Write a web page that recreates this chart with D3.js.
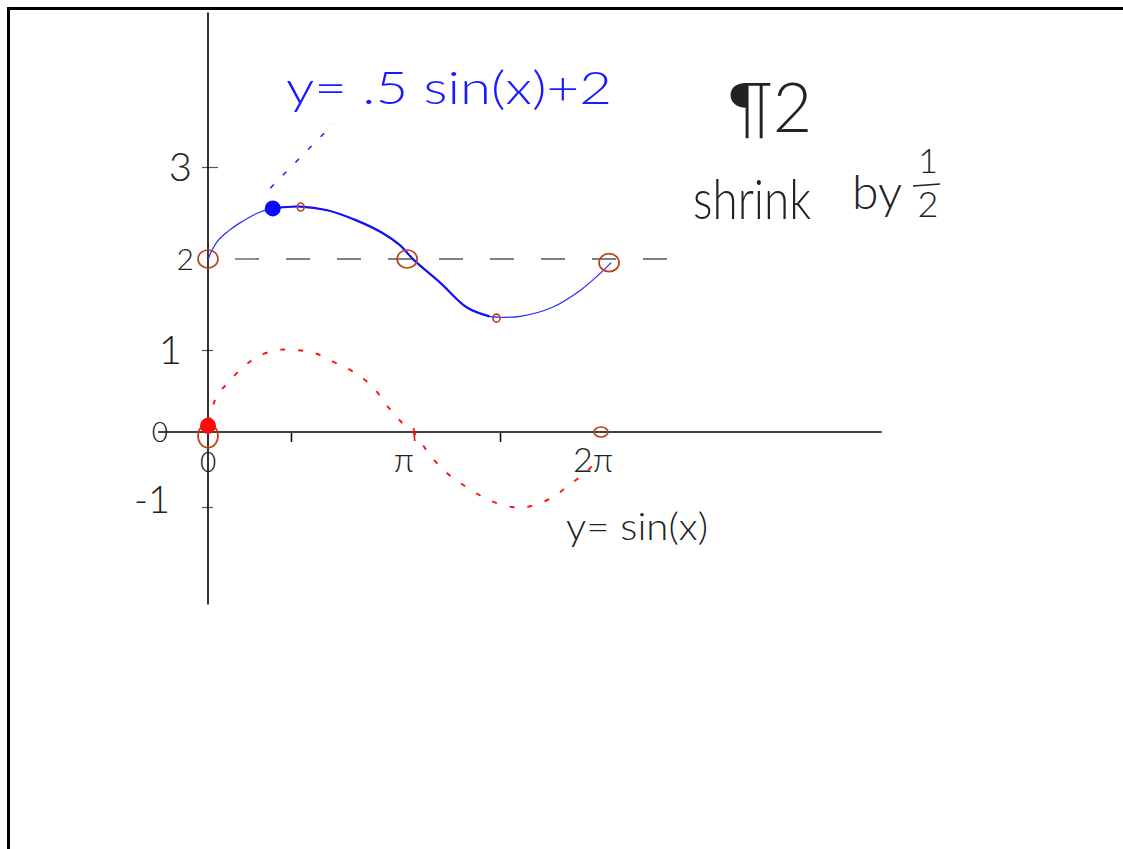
<!DOCTYPE html>
<html>
<head>
<meta charset="utf-8">
<script src="https://cdn.jsdelivr.net/npm/d3@7"></script>
<style>
  html, body { margin: 0; padding: 0; background: #fff; }
  svg { display: block; }
  text { font-family: "Lato", "Open Sans", sans-serif; font-weight: 300; }
</style>
</head>
<body>
<svg id="chart" width="1123" height="849"></svg>
<script>
// x values are in multiples of π
const xTickValues = [0, 0.5, 1, 1.5, 2];
const yTickValues = [-1, 0, 1, 2, 3];
const xTickLabels = ["0", "π", "2π"];
const xTickLabelAt = [0, 1, 2];
const yTickLabels = ["-1", "0", "1", "2", "3"];

// y = sin(x), dashed red
const sinX = [0.01, 0.05, 0.12, 0.2, 0.3, 0.42, 0.52, 0.6, 0.68, 0.76, 0.84, 0.9, 0.96, 1.01, 1.11, 1.21, 1.32, 1.44, 1.56, 1.65, 1.76, 1.84, 1.92, 1.97];
const sinY = [0.12, 0.43, 0.6, 0.77, 0.92, 1.0, 1.0, 0.96, 0.85, 0.73, 0.54, 0.31, 0.11, -0.01, -0.33, -0.57, -0.75, -0.91, -1.0, -0.99, -0.87, -0.71, -0.55, -0.41];

// y = .5 sin(x) + 2, solid blue
const shrunkX = [0, 0.02, 0.06, 0.12, 0.19, 0.3, 0.39, 0.54, 0.65, 0.77, 0.88, 0.95, 1.01, 1.16, 1.31, 1.44, 1.5, 1.6, 1.76, 1.9, 2.0, 2.05];
const shrunkY = [1.99, 2.08, 2.2, 2.3, 2.39, 2.5, 2.55, 2.57, 2.53, 2.42, 2.28, 2.15, 1.99, 1.74, 1.47, 1.37, 1.36, 1.37, 1.47, 1.66, 1.85, 1.96];

// circled key points
const keyX = [0, 0.98, 2.04, 0, 2.0, 0.54, 1.48];
const keyY = [2.0, 2.0, 1.96, -0.05, 0, 2.565, 1.35];
const keyKind = ["big", "big", "big", "tall", "small", "tiny", "tiny"];

// highlighted dots
const dotX = [0.39, 0];
const dotY = [2.55, 0.075];
const dotColor = ["#0a0aff", "#ff0a0a"];

// midline y = 2
const midlineY = 2;
const midlineEndX = 2.33;

// pointer from the blue label to the blue dot
const pointerX = [0.375, 0.675];
const pointerY = [2.77, 3.47];

// axis extents
const xAxisExtent = [-0.3, 3.39];
const yAxisExtent = [-2.3, 4.68];

const svg = d3.select("#chart");

const x = d3.scaleLinear().domain(xTickValues).range([208, 291, 412, 500, 601]);
const y = d3.scaleLinear().domain(yTickValues).range([507, 432, 350, 259, 167]);

// page frame
svg.append("path")
  .attr("d", "M8.5,849 L8.5,8.5 L1123,8.5")
  .attr("fill", "none").attr("stroke", "#000").attr("stroke-width", 3);

// axes
const xAxis = d3.axisBottom(x).tickValues([0.5, 1.5]).tickSize(10).tickFormat("");
const gx = svg.append("g").attr("transform", `translate(0,${y(0)})`).call(xAxis);
gx.select(".domain").remove();
gx.selectAll(".tick line").attr("stroke", "#111").attr("stroke-width", 1.6).attr("y1", 1);

const yAxis = d3.axisLeft(y).tickValues([-1, 1, 3]).tickSize(6).tickFormat("");
const gy = svg.append("g").attr("transform", `translate(${x(0)},0)`).call(yAxis);
gy.select(".domain").remove();
gy.selectAll(".tick line").attr("stroke", "#555").attr("stroke-width", 1.2)
  .attr("x1", d => d === 3 ? 10 : 5);

svg.append("line")
  .attr("x1", x(xAxisExtent[0])).attr("x2", x(xAxisExtent[1]))
  .attr("y1", y(0)).attr("y2", y(0))
  .attr("stroke", "#000").attr("stroke-width", 1.6);
svg.append("line")
  .attr("x1", x(0)).attr("x2", x(0))
  .attr("y1", y(yAxisExtent[1])).attr("y2", y(yAxisExtent[0]))
  .attr("stroke", "#000").attr("stroke-width", 1.6);

// tick labels
const yLabelDx = { "3": -16, "2": -14, "1": -26, "0": -40, "-1": -38 };
const yLabelSize = { "3": 40, "2": 30, "1": 40, "0": 28, "-1": 38 };
svg.append("g").selectAll("text")
  .data(yTickLabels)
  .join("text")
  .attr("x", d => x(0) + yLabelDx[d])
  .attr("y", d => y(+d) + (d === "-1" ? -8 : 0))
  .attr("dy", "0.36em")
  .attr("text-anchor", "end")
  .attr("font-size", d => yLabelSize[d])
  .attr("fill", "#222")
  .text(d => d);

svg.append("g").selectAll("text")
  .data(xTickLabels)
  .join("text")
  .attr("x", (d, i) => x(xTickLabelAt[i]) + (i === 0 ? 0 : -8))
  .attr("y", y(0) + 40)
  .attr("text-anchor", "middle")
  .attr("font-size", (d, i) => i === 0 ? 28 : 34)
  .attr("fill", "#222")
  .text(d => d);

// midline
svg.append("line")
  .attr("x1", x(0)).attr("x2", x(midlineEndX))
  .attr("y1", y(midlineY)).attr("y2", y(midlineY))
  .attr("stroke", "#555").attr("stroke-width", 1.3)
  .attr("stroke-dasharray", "24,27").attr("stroke-dashoffset", 24);

// curves
const line = d3.line().x(d => x(d[0])).y(d => y(d[1])).curve(d3.curveCatmullRom);
const sinPts = sinX.map((v, i) => [v, sinY[i]]);
const shrunkPts = shrunkX.map((v, i) => [v, shrunkY[i]]);

svg.append("path")
  .attr("d", line(sinPts))
  .attr("fill", "none").attr("stroke", "#ff1010").attr("stroke-width", 1.9)
  .attr("stroke-dasharray", "5,13");

svg.append("path")
  .attr("d", line(shrunkPts))
  .attr("fill", "none").attr("stroke", "#2a2aff").attr("stroke-width", 1.2);
svg.append("path")
  .attr("d", line(shrunkPts.filter(p => p[0] >= 0.39 && p[0] <= 1.44)))
  .attr("fill", "none").attr("stroke", "#1212ff").attr("stroke-width", 2.2);

// red π tick
svg.append("line")
  .attr("x1", x(1.01)).attr("x2", x(1.01) + 1)
  .attr("y1", y(0) - 4).attr("y2", y(0) + 9)
  .attr("stroke", "#e01010").attr("stroke-width", 1.6);

// circled key points
const kindR = { big: [10, 9], tall: [10, 12], small: [7, 5], tiny: [3.5, 4] };
svg.append("g").selectAll("ellipse")
  .data(keyX.map((v, i) => ({ x: v, y: keyY[i], k: keyKind[i] })))
  .join("ellipse")
  .attr("cx", d => x(d.x)).attr("cy", d => y(d.y))
  .attr("rx", d => kindR[d.k][0]).attr("ry", d => kindR[d.k][1])
  .attr("fill", "none").attr("stroke", "#b8421c").attr("stroke-width", 1.7);

// pointer
svg.append("line")
  .attr("x1", x(pointerX[0])).attr("y1", y(pointerY[0]))
  .attr("x2", x(pointerX[1])).attr("y2", y(pointerY[1]))
  .attr("stroke", "#1a1aff").attr("stroke-width", 1.5)
  .attr("stroke-dasharray", "5,13");

// dots
svg.append("g").selectAll("circle")
  .data(dotX.map((v, i) => ({ x: v, y: dotY[i], c: dotColor[i] })))
  .join("circle")
  .attr("cx", d => x(d.x)).attr("cy", d => y(d.y)).attr("r", 8)
  .attr("fill", d => d.c);

// annotations
svg.append("text")
  .attr("x", 286).attr("y", 104)
  .attr("font-size", 46).attr("fill", "#1a1aff")
  .attr("textLength", 326).attr("lengthAdjust", "spacingAndGlyphs")
  .text("y= .5 sin(x)+2");

svg.append("text")
  .attr("x", 566).attr("y", 540)
  .attr("font-size", 38).attr("fill", "#222")
  .attr("textLength", 142).attr("lengthAdjust", "spacingAndGlyphs")
  .text("y= sin(x)");

svg.append("text")
  .attr("x", 728).attr("y", 132)
  .attr("font-size", 68).attr("fill", "#222")
  .text("¶2");

svg.append("text")
  .attr("x", 693).attr("y", 219)
  .attr("font-size", 56).attr("fill", "#222")
  .attr("textLength", 118).attr("lengthAdjust", "spacingAndGlyphs")
  .text("shrink");

svg.append("text")
  .attr("x", 852).attr("y", 209)
  .attr("font-size", 48).attr("fill", "#222")
  .text("by");

svg.append("text")
  .attr("x", 928).attr("y", 173)
  .attr("text-anchor", "middle")
  .attr("font-size", 34).attr("fill", "#222")
  .text("1");
svg.append("line")
  .attr("x1", 913).attr("x2", 940).attr("y1", 186).attr("y2", 184)
  .attr("stroke", "#222").attr("stroke-width", 1.3);
svg.append("text")
  .attr("x", 928).attr("y", 217)
  .attr("text-anchor", "middle")
  .attr("font-size", 36).attr("fill", "#222")
  .text("2");
</script>
</body>
</html>
